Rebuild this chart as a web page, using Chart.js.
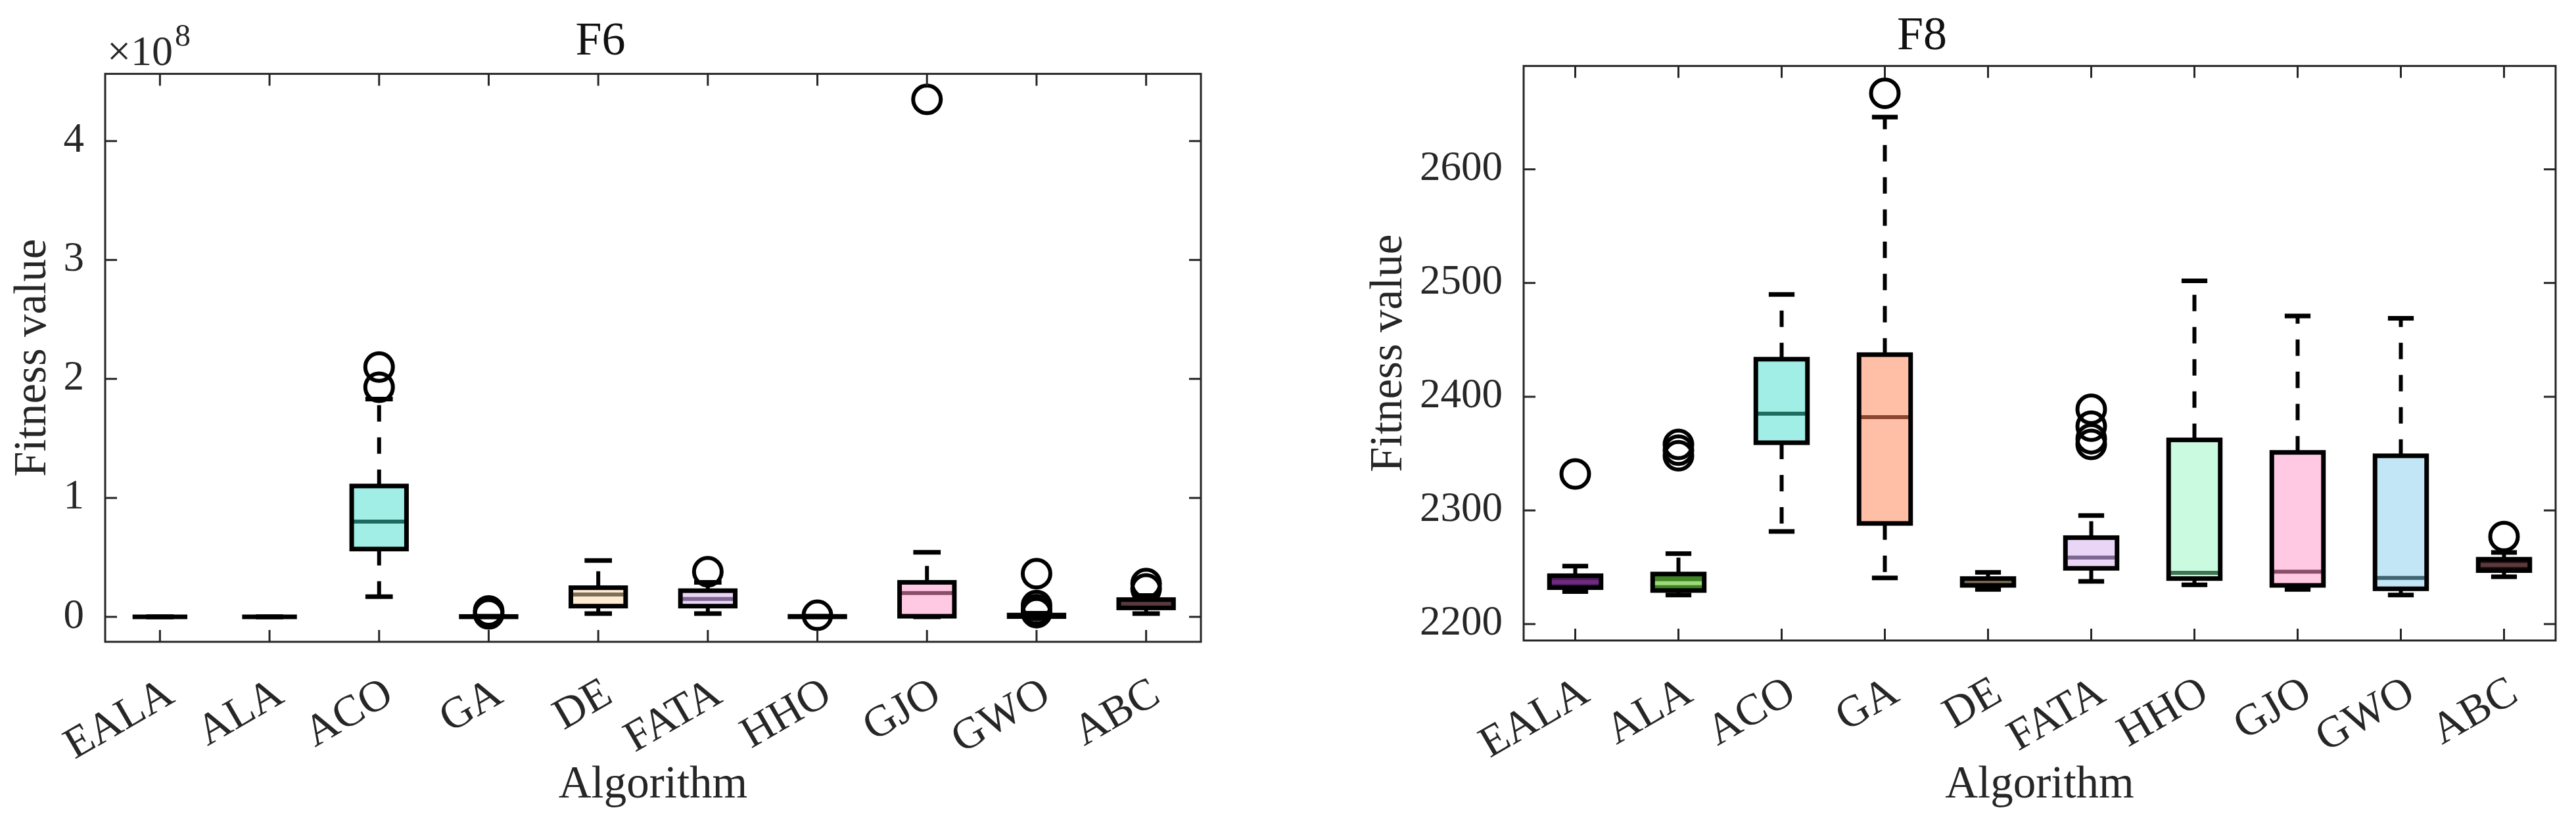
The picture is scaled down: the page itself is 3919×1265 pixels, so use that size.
<!DOCTYPE html>
<html>
<head>
<meta charset="utf-8">
<title>F6 / F8 fitness boxplots</title>
<script src="https://cdn.jsdelivr.net/npm/chart.js@4.4.1/dist/chart.umd.min.js"></script>
<style>
  html, body { margin: 0; padding: 0; background: #fff; }
  #wrap { position: relative; width: 3919px; height: 1265px; }
  #f6 { position: absolute; left: 0; top: 0; }
  #f8 { position: absolute; left: 1960px; top: 0; }
</style>
</head>
<body>
<div id="wrap">
  <canvas id="f6" width="1960" height="1265"></canvas>
  <canvas id="f8" width="1959" height="1265"></canvas>
</div>
<script>
const algorithms = ['EALA', 'ALA', 'ACO', 'GA', 'DE', 'FATA', 'HHO', 'GJO', 'GWO', 'ABC'];

// F6 box statistics (raw fitness values, axis shows them in units of 1e8)
const f6Lower  = [0, 0, 0.17e8, 0, 0.028e8, 0.028e8, 0, 0, 0, 0.028e8];
const f6Q1     = [0, 0, 0.57e8, 0, 0.09e8, 0.09e8, 0, 0.005e8, 0.002e8, 0.075e8];
const f6Median = [0, 0, 0.80e8, 0.001e8, 0.188e8, 0.15e8, 0.002e8, 0.20e8, 0.008e8, 0.11e8];
const f6Q3     = [0, 0, 1.10e8, 0.003e8, 0.245e8, 0.22e8, 0.004e8, 0.29e8, 0.015e8, 0.145e8];
const f6Upper  = [0, 0, 1.83e8, 0.006e8, 0.473e8, 0.29e8, 0.006e8, 0.543e8, 0.03e8, 0.18e8];
const f6Outliers = [
  ['ACO', 2.10e8], ['ACO', 1.93e8], ['GA', 0.05e8], ['GA', 0.025e8], ['FATA', 0.38e8],
  ['HHO', 0.013e8], ['GJO', 4.35e8], ['GWO', 0.363e8], ['GWO', 0.095e8], ['GWO', 0.06e8],
  ['GWO', 0.035e8], ['ABC', 0.28e8], ['ABC', 0.235e8]
];
const f6Ticks = [0, 1e8, 2e8, 3e8, 4e8];

// F8 box statistics
const f8Lower  = [2228.5, 2225.5, 2281.5, 2240.5, 2230.5, 2237.5, 2234.5, 2230.5, 2225.5, 2241.5];
const f8Q1     = [2232, 2229.5, 2359.5, 2288.5, 2234, 2249, 2240, 2234, 2231, 2247];
const f8Median = [2237, 2236, 2385, 2382, 2237.5, 2258.5, 2245, 2246, 2240.5, 2252];
const f8Q3     = [2242.5, 2244, 2433, 2437, 2240, 2276, 2362, 2351, 2348, 2257];
const f8Upper  = [2251, 2262, 2490, 2646, 2245.5, 2295.5, 2502, 2471, 2469, 2263];
const f8Outliers = [
  ['EALA', 2332], ['ALA', 2358], ['ALA', 2353], ['ALA', 2348], ['GA', 2667],
  ['FATA', 2389], ['FATA', 2374], ['FATA', 2363], ['FATA', 2358], ['ABC', 2277]
];
const f8Ticks = [2200, 2300, 2400, 2500, 2600];

const fillColors   = ['#4E1A5C', '#3F8526', '#A0EEE6', '#FFBFA6', '#FCEAD2',
                      '#E9D6F7', '#CAFADF', '#FFC9E4', '#C2E6F5', '#24100F'];
const medianColors = ['#6E2C80', '#9ED97E', '#1E6B5F', '#8B4530', '#7E6E58',
                      '#7D6690', '#3E7452', '#8A4E69', '#416473', '#5A3A3D'];

const FONT = '"Liberation Serif", "Times New Roman", serif';
const TEXT = '#262626';

// whiskers, caps, medians, box outlines and the inward-ticked frame
function boxPlugin(s) {
  return {
    id: 'boxes',
    beforeDatasetsDraw(chart) {
      const {ctx, scales: {x, y}} = chart;
      const step = x.getPixelForValue(1) - x.getPixelForValue(0);
      ctx.save();
      ctx.strokeStyle = '#000';
      algorithms.forEach((name, i) => {
        const px = x.getPixelForValue(i);
        ctx.lineWidth = 6;
        ctx.setLineDash([25, 24]);
        [[s.q3[i], s.upper[i]], [s.q1[i], s.lower[i]]].forEach(([from, to]) => {
          ctx.beginPath();
          ctx.moveTo(px, y.getPixelForValue(from));
          ctx.lineTo(px, y.getPixelForValue(to));
          ctx.stroke();
        });
        ctx.setLineDash([]);
        ctx.lineWidth = 7;
        [s.upper[i], s.lower[i]].forEach(v => {
          const py = y.getPixelForValue(v);
          ctx.beginPath();
          ctx.moveTo(px - step / 8, py);
          ctx.lineTo(px + step / 8, py);
          ctx.stroke();
        });
      });
      ctx.restore();
    },
    afterDatasetsDraw(chart) {
      const {ctx, scales: {x, y}} = chart;
      const step = x.getPixelForValue(1) - x.getPixelForValue(0);
      const half = step / 4;
      ctx.save();
      algorithms.forEach((name, i) => {
        const px = x.getPixelForValue(i);
        const pm = y.getPixelForValue(s.median[i]);
        ctx.strokeStyle = medianColors[i];
        ctx.lineWidth = 6;
        ctx.beginPath();
        ctx.moveTo(px - half + 3, pm);
        ctx.lineTo(px + half - 3, pm);
        ctx.stroke();
        const top = y.getPixelForValue(s.q3[i]);
        const bot = y.getPixelForValue(s.q1[i]);
        ctx.strokeStyle = '#000';
        ctx.lineWidth = 7;
        ctx.strokeRect(px - half, top, 2 * half, bot - top);
      });
      ctx.restore();
    },
    afterDraw(chart) {
      const {ctx, chartArea: a, scales: {x, y}} = chart;
      const tick = 18;
      ctx.save();
      ctx.strokeStyle = TEXT;
      ctx.lineWidth = 3;
      ctx.strokeRect(a.left, a.top, a.right - a.left, a.bottom - a.top);
      ctx.beginPath();
      algorithms.forEach((name, i) => {
        const px = x.getPixelForValue(i);
        ctx.moveTo(px, a.bottom); ctx.lineTo(px, a.bottom - tick);
        ctx.moveTo(px, a.top); ctx.lineTo(px, a.top + tick);
      });
      s.ticks.forEach(v => {
        const py = y.getPixelForValue(v);
        ctx.moveTo(a.left, py); ctx.lineTo(a.left + tick, py);
        ctx.moveTo(a.right, py); ctx.lineTo(a.right - tick, py);
      });
      ctx.stroke();
      if (s.exponent) {
        ctx.fillStyle = TEXT;
        ctx.textBaseline = 'alphabetic';
        ctx.font = '64px ' + FONT;
        ctx.fillText('\u00d710', 163, 99);
        const w = ctx.measureText('\u00d710').width;
        ctx.font = '48px ' + FONT;
        ctx.fillText(s.exponent, 163 + w + 3, 70);
      }
      ctx.restore();
    }
  };
}

function makeChart(id, opt) {
  const ctx = document.getElementById(id).getContext('2d');
  return new Chart(ctx, {
    type: 'bar',
    data: {
      labels: algorithms,
      datasets: [{
        label: 'box',
        data: algorithms.map((n, i) => [opt.q1[i], opt.q3[i]]),
        backgroundColor: fillColors,
        borderWidth: 0,
        barPercentage: 0.5,
        categoryPercentage: 1
      }, {
        type: 'line',
        label: 'outliers',
        data: opt.outliers.map(([name, v]) => ({x: name, y: v})),
        showLine: false,
        clip: false,
        pointStyle: 'circle',
        pointRadius: 21,
        pointHoverRadius: 21,
        pointBorderWidth: 6,
        pointBorderColor: '#000',
        pointBackgroundColor: 'rgba(0,0,0,0)'
      }]
    },
    options: {
      responsive: false,
      animation: false,
      layout: { padding: { left: 0, top: 0, right: opt.padRight, bottom: 0 } },
      plugins: {
        legend: { display: false },
        tooltip: { enabled: false },
        title: {
          display: true,
          text: opt.title,
          color: '#111',
          font: { family: FONT, size: 72, weight: 'normal' },
          padding: { top: opt.titleTop, bottom: opt.titleBottom }
        }
      },
      scales: {
        x: {
          type: 'category',
          offset: true,
          grid: { display: false },
          border: { display: false },
          ticks: {
            color: TEXT,
            font: { family: FONT, size: 67 },
            minRotation: 30,
            maxRotation: 30,
            autoSkip: false,
            padding: 32,
            labelOffset: 16
          },
          title: {
            display: true,
            text: 'Algorithm',
            color: TEXT,
            font: { family: FONT, size: 69 },
            padding: { top: 0, bottom: 28 }
          },
          afterFit: s => { s.height = opt.xHeight; }
        },
        y: {
          type: 'linear',
          min: opt.min,
          max: opt.max,
          grid: { display: false },
          border: { display: false },
          afterBuildTicks: s => { s.ticks = opt.ticks.map(v => ({ value: v })); },
          ticks: {
            color: TEXT,
            font: { family: FONT, size: 63 },
            padding: 24,
            callback: opt.format
          },
          title: {
            display: true,
            text: 'Fitness value',
            color: TEXT,
            font: { family: FONT, size: 69 },
            padding: { top: opt.yTitlePad, bottom: 0 }
          },
          afterFit: s => { s.width = opt.yWidth; }
        }
      }
    },
    plugins: [boxPlugin({
      lower: opt.lower, q1: opt.q1, median: opt.median, q3: opt.q3, upper: opt.upper,
      ticks: opt.ticks, exponent: opt.exponent
    })]
  });
}

document.addEventListener('DOMContentLoaded', function() {
  makeChart('f6', {
    title: 'F6', titleTop: 21, titleBottom: 5,
    lower: f6Lower, q1: f6Q1, median: f6Median, q3: f6Q3, upper: f6Upper,
    outliers: f6Outliers, ticks: f6Ticks,
    min: -0.21e8, max: 4.565e8,
    format: v => String(v / 1e8),
    exponent: '8',
    padRight: 133, xHeight: 288, yWidth: 160, yTitlePad: 9
  });
  makeChart('f8', {
    title: 'F8', titleTop: 13, titleBottom: 1,
    lower: f8Lower, q1: f8Q1, median: f8Median, q3: f8Q3, upper: f8Upper,
    outliers: f8Outliers, ticks: f8Ticks,
    min: 2185.5, max: 2691,
    format: v => String(v),
    exponent: null,
    padRight: 31, xHeight: 290, yWidth: 358, yTitlePad: 112
  });
});
</script>
</body>
</html>
